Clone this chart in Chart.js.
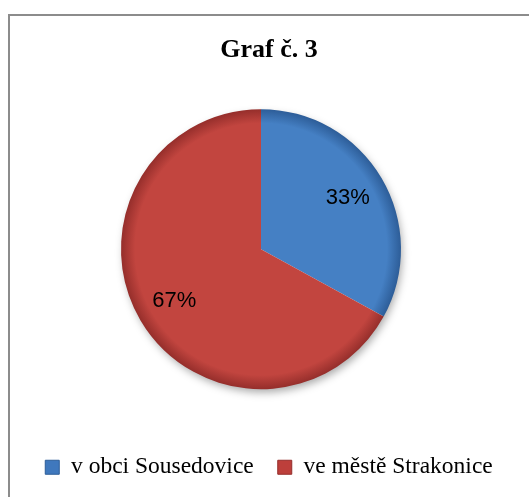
<!DOCTYPE html>
<html>
<head>
<meta charset="utf-8">
<script src="https://cdn.jsdelivr.net/npm/chart.js@4.4.1/dist/chart.umd.min.js"></script>
<style>
    html, body { margin: 0; padding: 0; background: #ffffff; overflow: hidden; }
    /* rámeček grafu (přesahuje okno vpravo a dole) */
    #frame { position: absolute; left: 8px; top: 14px; width: 600px; height: 600px; border: 2px solid #8c8c8c; }
    #wrap { position: absolute; left: 0; top: 0; width: 529px; height: 497px; }
</style>
</head>
<body>
<div id="frame"></div>
<div id="wrap"><canvas id="chartGraf3" width="529" height="497"></canvas></div>
<script>
// Data grafu
const categories = ['v obci Sousedovice', 've městě Strakonice'];
const shares = [33, 67];

// Barvy
const sliceColors = ['#4580c4', '#c2453f'];
const sliceEdges = ['#2d5d98', '#952e2b'];
const legendColors = ['#3f78bd', '#bd3f3b'];
const PIE_RADIUS = 140;

// výplň výseče s tmavším okrajem
function sliceFill(context) {
    const i = context.dataIndex;
    const area = context.chart.chartArea;
    if (!area) return sliceColors[i];
    const cx = (area.left + area.right) / 2;
    const cy = (area.top + area.bottom) / 2;
    const g = context.chart.ctx.createRadialGradient(cx, cy, 0, cx, cy, PIE_RADIUS);
    g.addColorStop(0, sliceColors[i]);
    g.addColorStop(0.9, sliceColors[i]);
    g.addColorStop(1, sliceEdges[i]);
    return g;
}

// stín pod koláčem
const pieShadow = {
    id: 'pieShadow',
    beforeDatasetsDraw(chart) {
        const arc = chart.getDatasetMeta(0).data[0];
        if (!arc) return;
        const ctx = chart.ctx;
        ctx.save();
        ctx.shadowColor = 'rgba(0,0,0,0.35)';
        ctx.shadowBlur = 8;
        ctx.shadowOffsetX = 2;
        ctx.shadowOffsetY = 4;
        ctx.fillStyle = '#ffffff';
        ctx.beginPath();
        ctx.arc(arc.x, arc.y, arc.outerRadius - 1, 0, Math.PI * 2);
        ctx.fill();
        ctx.restore();
    }
};

// popisky procent ve výsečích
const pctLabels = {
    id: 'pctLabels',
    afterDatasetsDraw(chart) {
        const ctx = chart.ctx;
        chart.getDatasetMeta(0).data.forEach((arc, i) => {
            const mid = (arc.startAngle + arc.endAngle) / 2;
            const r = arc.outerRadius * 0.72;
            ctx.save();
            ctx.font = '22px "Liberation Sans", sans-serif';
            ctx.fillStyle = '#000000';
            ctx.textAlign = 'center';
            ctx.textBaseline = 'middle';
            ctx.fillText(shares[i] + '%', arc.x + Math.cos(mid) * r, arc.y + Math.sin(mid) * r);
            ctx.restore();
        });
    }
};

new Chart(document.getElementById('chartGraf3'), {
    type: 'pie',
    data: {
        labels: categories,
        datasets: [{
            data: shares,
            backgroundColor: sliceFill,
            borderWidth: 0,
            radius: PIE_RADIUS
        }]
    },
    options: {
        responsive: false,
        animation: false,
        layout: { padding: { left: 9, right: 0, top: 0, bottom: 8 } },
        plugins: {
            title: {
                display: true,
                text: 'Graf č. 3',
                color: '#000000',
                font: { family: '"Liberation Serif", serif', size: 26, weight: 'bold' },
                padding: { top: 35, bottom: 42 }
            },
            // prázdný blok vpravo - posune koláč doleva
            subtitle: {
                display: true,
                position: 'right',
                fullSize: false,
                text: '',
                font: { size: 1 },
                padding: { top: 14.8, bottom: 0 }
            },
            legend: {
                position: 'bottom',
                title: { display: true, text: '', font: { size: 1 }, padding: { top: 40.2, bottom: 0 } },
                labels: {
                    boxWidth: 14,
                    boxHeight: 14,
                    padding: 24,
                    color: '#000000',
                    font: { family: '"Liberation Serif", serif', size: 23.5 },
                    generateLabels: function (chart) {
                        const items = Chart.controllers.pie.overrides.plugins.legend.labels.generateLabels(chart);
                        items.forEach((it, i) => {
                            it.fillStyle = legendColors[i];
                            it.strokeStyle = sliceEdges[i];
                            it.lineWidth = 1;
                        });
                        return items;
                    }
                }
            },
            tooltip: { enabled: false }
        }
    },
    plugins: [pieShadow, pctLabels]
});
</script>
</body>
</html>
